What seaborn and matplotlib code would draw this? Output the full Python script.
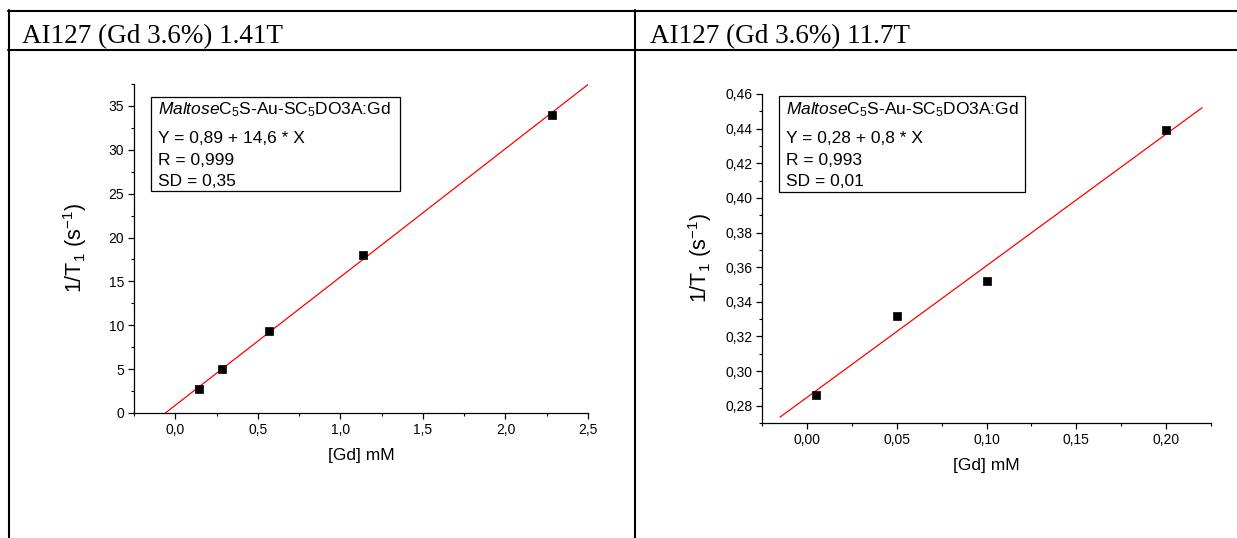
import numpy as np
import matplotlib
matplotlib.use("Agg")
import matplotlib.pyplot as plt
import seaborn as sns
from matplotlib.lines import Line2D
from matplotlib.patches import Rectangle
from matplotlib.ticker import MultipleLocator, FuncFormatter

# Longitudinal relaxation rate vs. gadolinium concentration at two field strengths
gd_low_field = [0.1425, 0.285, 0.57, 1.14, 2.28]
r1_low_field = [2.7, 5.0, 9.3, 18.0, 34.0]
fit_span_low = [-0.25, 2.5]

gd_high_field = [0.005, 0.05, 0.10, 0.20]
r1_high_field = [0.286, 0.332, 0.352, 0.439]
fit_span_high = [-0.015, 0.22]

panel_titles = ["AI127 (Gd 3.6%) 1.41T", "AI127 (Gd 3.6%) 11.7T"]
compound = r"$\mathit{Maltose}$C$_5$S-Au-SC$_5$DO3A:Gd"
fit_lines_low = ["Y = 0,89 + 14,6 * X", "R = 0,999", "SD = 0,35"]
fit_lines_high = ["Y = 0,28 + 0,8 * X", "R = 0,993", "SD = 0,01"]

sns.set_theme(style="ticks")
plt.rcParams["font.family"] = ["Liberation Sans", "DejaVu Sans"]
plt.rcParams["mathtext.fontset"] = "custom"
plt.rcParams["mathtext.rm"] = "Liberation Sans"
plt.rcParams["mathtext.it"] = "Liberation Sans:italic"
plt.rcParams["mathtext.bf"] = "Liberation Sans:bold"

W, H = 1237, 538
fig = plt.figure(figsize=(W / 100, H / 100), dpi=100)
fig.patch.set_facecolor("white")


def fx(x):
    return x / W


def fy(y):
    return 1 - y / H


# table frame around the two panels
frame_kw = dict(color="black", lw=1.5, transform=fig.transFigure)
fig.add_artist(Line2D([fx(8), fx(W)], [fy(11), fy(11)], **frame_kw))
fig.add_artist(Line2D([fx(8), fx(W)], [fy(50), fy(50)], **frame_kw))
fig.add_artist(Line2D([fx(9), fx(9)], [fy(10), fy(H)], **frame_kw))
fig.add_artist(Line2D([fx(635), fx(635)], [fy(10), fy(H)], **frame_kw))

for x0, title in zip([22, 650], panel_titles):
    fig.text(fx(x0), fy(43), title, family="Liberation Serif", fontsize=19.5,
             va="baseline", ha="left", color="black")


def comma(decimals):
    return FuncFormatter(lambda v, p: f"{v:.{decimals}f}".replace(".", ","))


def draw_panel(px_box, x, y, fit_span, xlim, ylim, xmaj, xmin, ymaj, ymin,
               xdec, ydec, box_px, text_x, fit_lines, ylabel_x):
    left, top, right, bottom = px_box
    ax = fig.add_axes([fx(left), fy(bottom), fx(right - left), (bottom - top) / H])
    slope, intercept = np.polyfit(x, y, 1)
    xs = np.array(fit_span)
    sns.lineplot(x=xs, y=intercept + slope * xs, ax=ax, color="red",
                 lw=0.9, estimator=None, sort=False)
    sns.scatterplot(x=x, y=y, ax=ax, marker="s", s=38, color="black",
                    edgecolor="black", linewidth=0.5, zorder=3)
    ax.set_xlim(*xlim)
    ax.set_ylim(*ylim)
    ax.xaxis.set_major_locator(MultipleLocator(xmaj))
    ax.xaxis.set_minor_locator(MultipleLocator(xmin))
    ax.yaxis.set_major_locator(MultipleLocator(ymaj))
    ax.yaxis.set_minor_locator(MultipleLocator(ymin))
    ax.xaxis.set_major_formatter(comma(xdec))
    ax.yaxis.set_major_formatter(comma(ydec))
    sns.despine(ax=ax)
    for s in ("left", "bottom"):
        ax.spines[s].set_linewidth(0.9)
        ax.spines[s].set_color("black")
    ax.tick_params(which="major", length=4.5, width=0.9, direction="out",
                   labelsize=10, colors="black", pad=2.5)
    ax.tick_params(which="minor", length=2.3, width=0.8, direction="out",
                   colors="black")
    ax.set_xlabel("[Gd] mM", fontsize=12.5, color="black", labelpad=8)
    ax.set_ylabel(r"1/T$_1$ (s$^{-1}$)", fontsize=15.5, color="black")
    ax.yaxis.set_label_coords((ylabel_x - left) / (right - left), 0.5)

    # fit summary box
    bl, bt, br, bb = box_px
    fig.add_artist(Rectangle((fx(bl), fy(bb)), fx(br - bl), (bb - bt) / H,
                             transform=fig.transFigure, fill=False,
                             edgecolor="black", lw=0.9))
    fig.text(fx(text_x), fy(114), compound, fontsize=12.5, va="baseline",
             ha="left", color="black")
    for yb, line in zip([143, 165, 186], fit_lines):
        fig.text(fx(text_x), fy(yb), line, fontsize=12.5, va="baseline",
                 ha="left", color="black")
    return ax


draw_panel((134, 84, 588, 413), gd_low_field, r1_low_field, fit_span_low,
           (-0.25, 2.5), (0, 37.5), 0.5, 0.25, 5, 2.5, 1, 0,
           (151, 97, 400, 191), 158, fit_lines_low, 89)

draw_panel((762, 94, 1211, 423), gd_high_field, r1_high_field, fit_span_high,
           (-0.025, 0.225), (0.27, 0.46), 0.05, 0.025, 0.02, 0.01, 2, 2,
           (779, 96, 1025, 192), 786, fit_lines_high, 714)

fig.savefig("out.png", dpi=100, facecolor="white")
